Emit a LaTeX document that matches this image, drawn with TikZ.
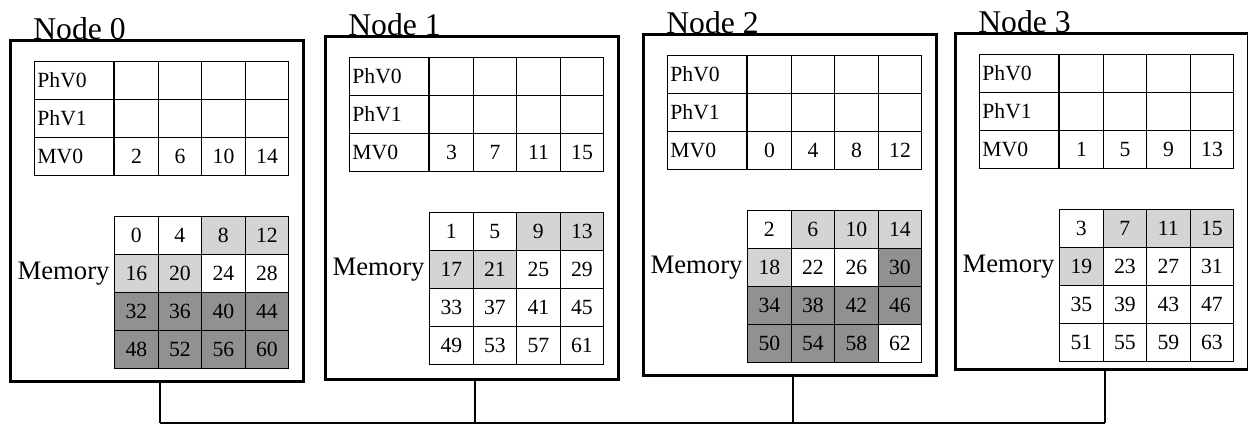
\documentclass[tikz,border=0pt]{standalone}
\usepackage{fontspec}
\setmainfont{Liberation Serif}
\usetikzlibrary{positioning}
\usepackage{xcolor}
\definecolor{lightDots}{RGB}{212, 212, 212}
\definecolor{darkDots}{RGB}{145, 145, 145}

\begin{document}
\begin{tikzpicture}
    [
		x=0.6pt, y=-0.6pt,
		nodebox/.style={
			draw, line width=1.6pt, minimum width=175.8pt, inner sep=0pt, anchor=north west
		},
		nodetitle/.style={
			font=\fontsize{19}{19}\selectfont, anchor=base west, inner sep=0pt
		},
		namecell/.style={
			draw, line width=0.7pt, minimum height=22.8pt, text width=44pt, inner xsep=1.7pt,
			inner ysep=0pt, align=left, anchor=north west, font=\fontsize{13}{13}\selectfont
		},
		valcell/.style={
			draw, line width=0.7pt, minimum width=26.1pt, minimum height=22.8pt, inner sep=0pt,
			anchor=north west, font=\fontsize{13}{13}\selectfont
		},
		memlabel/.style={
			font=\fontsize{16}{16}\selectfont, anchor=east, inner sep=2.5pt
		},
		shade0/.style={fill=white},
		shade1/.style={fill=lightDots},
		shade2/.style={fill=darkDots},
		bus/.style={line width=1.4pt}
	]

\useasboundingbox (0,0) rectangle (1248,427);
\coordinate (busline) at (0,423);

% Nodes
\foreach \k/\bx/\by/\h/\mv/\sh in {
	0/9/39/341/2/{0,0,1,1,1,1,0,0,2,2,2,2,2,2,2,2},
	1/324/35/343/3/{0,0,1,1,1,1,0,0,0,0,0,0,0,0,0,0},
	2/642/33/341/0/{0,1,1,1,1,0,0,2,2,2,2,2,2,2,2,0},
	3/954/32/336/1/{0,1,1,1,1,0,0,0,0,0,0,0,0,0,0,0}}
{
	\node (box\k) [nodebox, minimum height=\h*0.6pt] at (\bx,\by) {};
	\node (title\k) [nodetitle] at ([shift={(24,0)}]box\k.north west) {Node \k};

	% Registers
	\foreach \reg [count=\r from 0] in {PhV0,PhV1,MV0} {
		\node (reg\k-\r) [namecell] at ([shift={(25,22+38*\r)}]box\k.north west) {\reg};
		\foreach \c in {0,...,3} {
			\pgfmathtruncatemacro\mvval{4*\c+\mv}
			\node (val\k-\r-\c) [valcell] at ([shift={(43.5*\c,0)}]reg\k-\r.north east)
				{\ifnum\r=2 \mvval\fi};
		}
	}

	% Memory
	\foreach \s [count=\i from 0] in \sh {
		\pgfmathtruncatemacro\mr{\i/4}
		\pgfmathtruncatemacro\mc{mod(\i,4)}
		\pgfmathtruncatemacro\mval{16*\mr+4*\mc+\k}
		\node (mem\k-\i) [valcell, shade\s] at ([shift={(105+43.5*\mc,177+38*\mr)}]box\k.north west) {\mval};
	}
	\node (memlabel\k) [memlabel] at (mem\k-4.west) {Memory};
}

% Bus
\foreach \k in {0,...,3} {
	\path (box\k.south) ++(3,0) coordinate (drop\k);
	\draw [bus] (drop\k) -- (drop\k |- busline) coordinate (tap\k);
}
\draw [bus] (tap0) -- (tap3);

\end{tikzpicture}
\end{document}
